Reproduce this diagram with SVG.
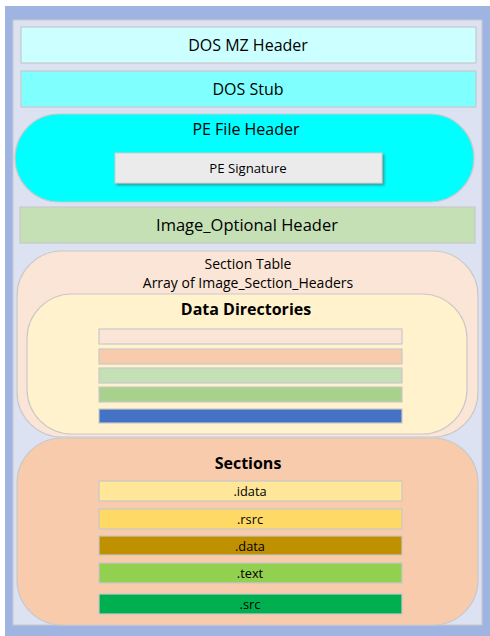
<svg xmlns="http://www.w3.org/2000/svg" width="490" height="636" viewBox="0 0 490 636">
<style>
text{font-family:"Open Sans","Liberation Sans",sans-serif;fill:#000;text-anchor:middle}
.t16{font-size:16px}
.t17{font-size:16.5px}
.t14{font-size:14px}
.t13{font-size:12.8px}
.sig{font-size:13.2px}
.b{font-weight:bold;font-size:16px}
.box{stroke:#c9c9c9;stroke-width:1.2}
</style>
<defs>
<filter id="sh" x="-10%" y="-20%" width="125%" height="160%">
<feDropShadow dx="2" dy="2" stdDeviation="1" flood-color="#3a8a8a" flood-opacity="0.8"/>
</filter>
</defs>
<rect x="5" y="6" width="485" height="630" fill="#9fb4e0"/>
<rect x="13" y="20" width="469" height="605" fill="#dde2f3" stroke="#c9c9c9"/>
<g id="dos-mz">
<rect class="box" x="21" y="27" width="455" height="36" fill="#ccffff"/>
<text class="t16" x="248" y="51">DOS MZ Header</text>
</g>
<g id="dos-stub">
<rect class="box" x="21" y="71" width="455" height="36" fill="#80ffff"/>
<text class="t16" x="248" y="95">DOS Stub</text>
</g>
<g id="pe-file-header">
<rect class="box" x="15" y="114" width="459" height="88" rx="44" fill="#00ffff"/>
<text class="t16" x="246" y="135">PE File Header</text>
</g>
<g id="pe-signature">
<rect x="115" y="153" width="267" height="30" fill="#ebebeb" stroke="#d0d0d0" filter="url(#sh)"/>
<text class="sig" x="248" y="173">PE Signature</text>
</g>
<g id="optional-header">
<rect class="box" x="20" y="207" width="455" height="36" fill="#c5e0b4"/>
<text class="t17" x="247" y="231">Image_Optional Header</text>
</g>
<g id="section-table">
<rect class="box" x="17" y="251" width="461" height="186" rx="45" fill="#fbe5d6"/>
<text class="t14" x="248" y="269">Section Table</text>
<text class="t14" x="248" y="288">Array of Image_Section_Headers</text>
</g>
<g id="data-directories">
<rect class="box" x="27" y="294" width="440" height="140" rx="45" fill="#fff2cc"/>
<text class="b" x="246" y="315">Data Directories</text>
<rect class="box" x="99" y="329" width="303" height="15" fill="#fbe5d6"/>
<rect class="box" x="99" y="349" width="303" height="15" fill="#f8cbad"/>
<rect class="box" x="99" y="368" width="303" height="15" fill="#c5e0b4"/>
<rect class="box" x="99" y="387" width="303" height="15" fill="#a9d18e"/>
<rect class="box" x="99" y="409" width="303" height="14" fill="#4472c4"/>
</g>
<g id="sections">
<rect class="box" x="17" y="438" width="461" height="187" rx="45" fill="#f8cbad"/>
<text class="b" x="248" y="469">Sections</text>
</g>
<g id="idata">
<rect class="box" x="99" y="481" width="303" height="20" fill="#ffe699"/>
<text class="t13" x="250" y="496">.idata</text>
</g>
<g id="rsrc">
<rect class="box" x="99" y="509" width="303" height="20" fill="#ffd966"/>
<text class="t13" x="250" y="524">.rsrc</text>
</g>
<g id="data">
<rect class="box" x="99" y="536" width="303" height="19" fill="#bf9000"/>
<text class="t13" x="250" y="551">.data</text>
</g>
<g id="text">
<rect class="box" x="99" y="563" width="303" height="20" fill="#92d050"/>
<text class="t13" x="250" y="578">.text</text>
</g>
<g id="src">
<rect class="box" x="99" y="594" width="303" height="20" fill="#00b050"/>
<text class="t13" x="250" y="609">.src</text>
</g>
<g id="connectors"></g>
</svg>
